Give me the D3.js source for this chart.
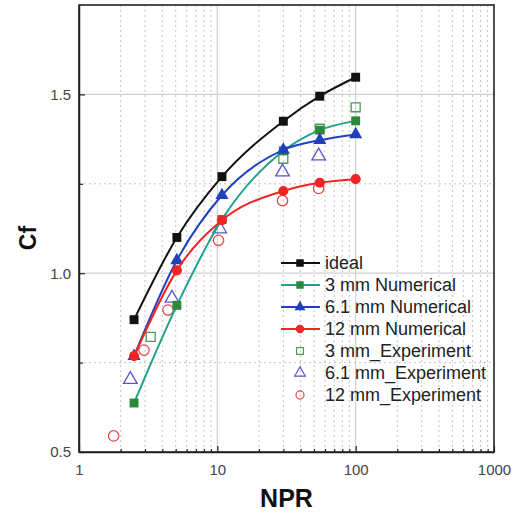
<!DOCTYPE html>
<html>
<head>
<meta charset="utf-8">
<script src="https://cdn.jsdelivr.net/npm/d3@7"></script>
<style>
  body { margin: 0; background: #fff; }
  svg text { font-family: "Liberation Sans", Arial, sans-serif; }
</style>
</head>
<body>
<div id="chart"></div>
<script>
// NPR values and Cf readings
const nprNum = [2.5, 5.1, 10.8, 30, 55, 100];
const cfIdeal = [0.87, 1.10, 1.27, 1.425, 1.495, 1.548];
const cf3Num = [0.637, 0.91, 1.15, 1.342, 1.40, 1.426];
const cf61Num = [0.768, 1.036, 1.218, 1.345, 1.372, 1.388];
const cf12Num = [0.768, 1.008, 1.148, 1.23, 1.253, 1.263];

const npr3Exp = [3.3, 30, 55, 100];
const cf3Exp = [0.822, 1.32, 1.404, 1.464];
const npr61Exp = [2.35, 4.7, 10.4, 29.6, 54];
const cf61Exp = [0.703, 0.93, 1.124, 1.283, 1.328];
const npr12Exp = [1.78, 2.95, 4.4, 10.2, 29.6, 54];
const cf12Exp = [0.545, 0.785, 0.897, 1.092, 1.203, 1.237];

const xTicks = [1, 10, 100, 1000];
const yTicks = [0.5, 1.0, 1.5];
const yMinor = [0.75, 1.25];

const legendLabels = ["ideal", "3 mm Numerical", "6.1 mm Numerical", "12 mm Numerical",
  "3 mm_Experiment", "6.1 mm_Experiment", "12 mm_Experiment"];

const W = 523, H = 515;
const margin = {left: 79, right: 29, top: 5, bottom: 63};
const width = W - margin.left - margin.right;
const height = H - margin.top - margin.bottom;

const svg = d3.select("#chart")
    .append("svg")
    .attr("width", W)
    .attr("height", H);

const g = svg.append("g")
    .attr("transform", `translate(${margin.left},${margin.top})`);

const x = d3.scaleLog().domain([1, 1000]).range([0, width]);
const y = d3.scaleLinear().domain([0.5, 1.75]).range([height, 0]);

// minor x positions
const xMinor = [];
[1, 10, 100].forEach(d => { for (let k = 2; k <= 9; k++) xMinor.push(d * k); });

// grid
g.selectAll(".gxm").data(xMinor).join("line")
    .attr("x1", d => x(d)).attr("x2", d => x(d))
    .attr("y1", 0).attr("y2", height)
    .attr("stroke", "#c4c4c4").attr("stroke-width", 1)
    .attr("stroke-dasharray", "2,3");
g.selectAll(".gym").data(yMinor).join("line")
    .attr("x1", 0).attr("x2", width)
    .attr("y1", d => y(d)).attr("y2", d => y(d))
    .attr("stroke", "#c4c4c4").attr("stroke-width", 1)
    .attr("stroke-dasharray", "2,3");
g.selectAll(".gx").data([10, 100]).join("line")
    .attr("x1", d => x(d)).attr("x2", d => x(d))
    .attr("y1", 0).attr("y2", height)
    .attr("stroke", "#d0d0d0").attr("stroke-width", 1.2);
g.selectAll(".gy").data([1.0, 1.5]).join("line")
    .attr("x1", 0).attr("x2", width)
    .attr("y1", d => y(d)).attr("y2", d => y(d))
    .attr("stroke", "#d0d0d0").attr("stroke-width", 1.2);

// axes, ticks inside
const xAxis = g.append("g")
    .attr("transform", `translate(0,${height})`)
    .call(d3.axisBottom(x).tickValues(xTicks).tickFormat(d3.format("d"))
        .tickSizeInner(-6).tickSizeOuter(0).tickPadding(12));
xAxis.selectAll(".tick text").attr("font-size", 15).attr("fill", "#444");
g.append("g")
    .attr("transform", `translate(0,${height})`)
    .call(d3.axisBottom(x).tickValues(xMinor).tickFormat("").tickSizeInner(-3).tickSizeOuter(0))
    .select(".domain").remove();

const yAxis = g.append("g")
    .call(d3.axisLeft(y).tickValues(yTicks).tickFormat(d3.format(".1f"))
        .tickSizeInner(-6).tickSizeOuter(0).tickPadding(8));
yAxis.selectAll(".tick text").attr("font-size", 15).attr("fill", "#444");
g.append("g")
    .call(d3.axisLeft(y).tickValues(yMinor).tickFormat("").tickSizeInner(-4).tickSizeOuter(0))
    .select(".domain").remove();

g.selectAll(".domain").attr("stroke", "#222").attr("stroke-width", 1.5);
g.selectAll(".tick line").attr("stroke", "#222").attr("stroke-width", 1.2);

// frame
g.append("rect")
    .attr("width", width).attr("height", height)
    .attr("fill", "none").attr("stroke", "#222").attr("stroke-width", 1.6);

// series
const numSeries = [
  {vals: cfIdeal, line: "#111111", fill: "#111111", sym: d3.symbolSquare, size: 80},
  {vals: cf3Num, line: "#21a08c", fill: "#2b8a3a", sym: d3.symbolSquare, size: 80},
  {vals: cf61Num, line: "#2040c0", fill: "#2040c0", sym: d3.symbolTriangle, size: 75},
  {vals: cf12Num, line: "#f02424", fill: "#f02424", sym: d3.symbolCircle, size: 80}
];
const expSeries = [
  {npr: npr3Exp, vals: cf3Exp, stroke: "#4e9a5c", sym: d3.symbolSquare, size: 80},
  {npr: npr61Exp, vals: cf61Exp, stroke: "#5858c8", sym: d3.symbolTriangle, size: 80},
  {npr: npr12Exp, vals: cf12Exp, stroke: "#e24a4a", sym: d3.symbolCircle, size: 85}
];

const line = d3.line()
    .x(d => x(d[0]))
    .y(d => y(d[1]))
    .curve(d3.curveMonotoneX);

// experiment markers
expSeries.forEach(s => {
  g.selectAll(null).data(s.npr.map((n, i) => [n, s.vals[i]])).join("path")
      .attr("d", d3.symbol(s.sym, s.size))
      .attr("transform", d => `translate(${x(d[0])},${y(d[1])})`)
      .attr("fill", "none")
      .attr("stroke", s.stroke)
      .attr("stroke-width", 1.3);
});

numSeries.forEach(s => {
  const pts = nprNum.map((n, i) => [n, s.vals[i]]);
  g.append("path").datum(pts)
      .attr("d", line)
      .attr("fill", "none")
      .attr("stroke", s.line)
      .attr("stroke-width", 2);
  g.selectAll(null).data(pts).join("path")
      .attr("d", d3.symbol(s.sym, s.size))
      .attr("transform", d => `translate(${x(d[0])},${y(d[1])})`)
      .attr("fill", s.fill);
});

// legend
const leg = g.append("g").attr("transform", `translate(${281 - margin.left},${263 - margin.top})`);
const legItems = numSeries.map(s => ({line: s.line, fill: s.fill, sym: s.sym, size: s.size * 0.7, open: false}))
    .concat(expSeries.map(s => ({line: null, fill: s.stroke, sym: s.sym, size: s.size * 0.6, open: true})));
legItems.forEach((it, i) => {
  const row = leg.append("g").attr("transform", `translate(0,${i * 22})`);
  if (it.line) {
    row.append("line").attr("x1", 0).attr("x2", 39).attr("y1", 0).attr("y2", 0)
        .attr("stroke", it.line).attr("stroke-width", 2);
  }
  row.append("path")
      .attr("d", d3.symbol(it.sym, it.size))
      .attr("transform", "translate(19,0)")
      .attr("fill", it.open ? "none" : it.fill)
      .attr("stroke", it.open ? it.fill : "none")
      .attr("stroke-width", 1.2);
  row.append("text")
      .attr("x", 44).attr("y", 6)
      .attr("font-size", 18)
      .attr("fill", "#222")
      .text(legendLabels[i]);
});

// axis titles
svg.append("text")
    .attr("x", margin.left + width / 2).attr("y", 507)
    .attr("text-anchor", "middle")
    .attr("font-size", 25).attr("font-weight", "bold")
    .attr("fill", "#111")
    .text("NPR");
svg.append("text")
    .attr("transform", `translate(36,238) rotate(-90)`)
    .attr("text-anchor", "middle")
    .attr("font-size", 23).attr("font-weight", "bold")
    .attr("fill", "#111")
    .text("Cf");
</script>
</body>
</html>
